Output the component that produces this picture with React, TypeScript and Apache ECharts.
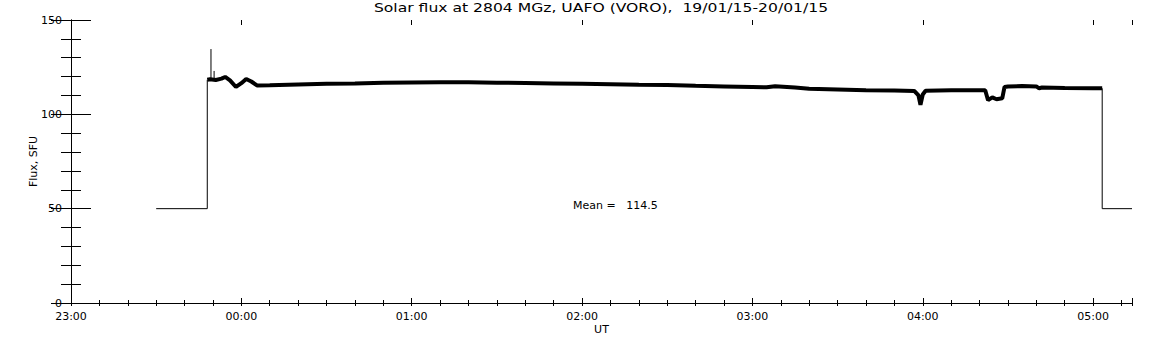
import React, { useEffect, useRef } from "react";
import * as echarts from "echarts";

// ---- data (minutes after 23:00 UT, flux in SFU) ----
const START_HOUR = 23;
const AXIS_MAX_MIN = 373.7;

const baseLeftMinutes = [30, 48, 48];
const baseLeftFlux = [50, 50, 118.3];

const baseRightMinutes = [363.2, 363.2, 373.7];
const baseRightFlux = [113.8, 50, 50];

const spikeMinutes = [49.3, 50.4];
const spikeBase = [118, 118];
const spikeTop = [134.6, 123];

const traceMinutes = [48, 49, 51, 53, 54.3, 56, 58.1, 60, 61.7, 63.5, 65.5, 70, 80, 90, 100, 110, 120, 130, 140, 150, 160, 170, 180, 190, 200, 210, 220, 230, 240, 245, 248, 255, 260, 270, 280, 290, 297, 298.5, 299.2, 300, 301, 310, 320, 322, 323, 324.5, 326, 328, 328.8, 330, 335, 340, 341, 342, 350, 360, 363.2];
const traceFlux = [118.3, 118.6, 118.2, 118.9, 119.8, 118, 114.5, 116.5, 118.7, 117.4, 115.3, 115.4, 115.8, 116.2, 116.4, 116.7, 116.9, 117.0, 117.0, 116.8, 116.6, 116.4, 116.2, 116.0, 115.7, 115.5, 115.1, 114.8, 114.5, 114.3, 114.9, 114.2, 113.6, 113.2, 112.8, 112.6, 112.4, 110, 105, 110.5, 112.5, 112.7, 112.8, 112.8, 107.5, 109, 108, 108.5, 114.5, 114.8, 115, 114.8, 113.8, 114.2, 113.9, 113.8, 113.8];

const TITLE = "Solar flux at 2804 MGz, UAFO (VORO),  19/01/15-20/01/15";
const MEAN_TEXT = "Mean =   114.5";
const Y_NAME = "Flux, SFU";
const X_NAME = "UT";

const FONT = "DejaVu Sans";

function fmt(v: number): string {
  const total = Math.round(v) + START_HOUR * 60;
  const h = Math.floor(total / 60) % 24;
  const m = total % 60;
  return String(h).padStart(2, "0") + ":" + String(m).padStart(2, "0");
}

function zip(a: number[], b: number[]) {
  return a.map((x, i) => [x, b[i]]);
}

export default function App() {
  const ref = useRef<HTMLDivElement>(null);
  useEffect(() => {
    const chart = echarts.init(ref.current!, undefined, { renderer: "svg" });
    const grid = { left: 71, top: 20, width: 1061, height: 283 };
    const lineStyle = { color: "#000", width: 1 };
    const baseX = {
      type: "value" as const,
      min: 0,
      max: AXIS_MAX_MIN,
      splitLine: { show: false },
      axisLine: { show: true, lineStyle },
    };
    const option: any = {
      animation: false,
      backgroundColor: "#fff",
      textStyle: { fontFamily: FONT, color: "#000" },
      grid,
      xAxis: [
        {
          ...baseX,
          position: "bottom",
          interval: 10,
          axisTick: { show: true, inside: true, length: 3, lineStyle },
          axisLabel: {
            show: true,
            margin: 8,
            fontSize: 11,
            fontFamily: FONT,
            color: "#000",
            showMaxLabel: false,
            formatter: (v: number) => (Math.abs(v % 60) < 1e-6 ? fmt(v) : ""),
          },
          name: X_NAME,
          nameLocation: "middle",
          nameGap: 21,
          nameMoveOverlap: false,
          nameTextStyle: { fontFamily: FONT, fontSize: 11, color: "#000" },
        },
        {
          ...baseX,
          position: "top",
          interval: 10,
          axisTick: { show: true, inside: true, length: 3, lineStyle },
          axisLabel: { show: false },
        },
        {
          ...baseX,
          position: "bottom",
          interval: 60,
          axisLine: { show: false },
          axisTick: { show: true, inside: true, length: 5, lineStyle },
          axisLabel: { show: false },
        },
        {
          ...baseX,
          position: "top",
          interval: 60,
          axisLine: { show: false },
          axisTick: { show: true, inside: true, length: 5, lineStyle },
          axisLabel: { show: false },
        },
      ],
      yAxis: [
        {
          type: "value",
          position: "left",
          min: 0,
          max: 150,
          interval: 50,
          splitLine: { show: false },
          axisLine: { show: true, lineStyle },
          axisTick: { show: true, inside: true, length: 20, lineStyle },
          minorTick: { show: true, splitNumber: 5, length: 10, lineStyle },
          axisLabel: { margin: 9, fontSize: 11, fontFamily: FONT, color: "#000" },
          name: Y_NAME,
          nameLocation: "middle",
          nameGap: 32,
          nameMoveOverlap: false,
          nameTextStyle: { fontFamily: FONT, fontSize: 11, color: "#000" },
        },
        {
          type: "value",
          position: "right",
          min: 0,
          max: 150,
          interval: 50,
          splitLine: { show: false },
          axisLine: { show: true, lineStyle },
          axisTick: { show: true, inside: true, length: 20, lineStyle },
          minorTick: { show: true, splitNumber: 5, length: 10, lineStyle },
          axisLabel: { show: false },
        },
      ],
      graphic: [
        {
          type: "text",
          x: 601,
          y: 8,
          scaleX: 1.3,
          style: {
            text: TITLE,
            fontFamily: FONT,
            fontSize: 12,
            fill: "#000",
            align: "center",
            verticalAlign: "middle",
          },
        },
        {
          type: "text",
          x: 573,
          y: 205,
          style: {
            text: MEAN_TEXT,
            fontFamily: FONT,
            fontSize: 11,
            fill: "#000",
            align: "left",
            verticalAlign: "middle",
          },
        },
      ],
      series: [
        {
          type: "line",
          data: zip(baseLeftMinutes, baseLeftFlux),
          symbol: "none",
          lineStyle: { color: "#000", width: 1 },
        },
        {
          type: "line",
          data: zip(baseRightMinutes, baseRightFlux),
          symbol: "none",
          lineStyle: { color: "#000", width: 1 },
        },
        ...spikeMinutes.map((m, i) => ({
          type: "line",
          data: [
            [m, spikeBase[i]],
            [m, spikeTop[i]],
          ],
          symbol: "none",
          lineStyle: { color: "#000", width: 1 },
        })),
        {
          type: "line",
          data: zip(traceMinutes, traceFlux),
          symbol: "none",
          lineStyle: { color: "#000", width: 4, join: "bevel" },
        },
      ],
    };
    chart.setOption(option);
    return () => chart.dispose();
  }, []);
  return (
    <div
      ref={ref}
      style={{ position: "absolute", left: 0, top: 0, width: 1152, height: 345 }}
    />
  );
}
